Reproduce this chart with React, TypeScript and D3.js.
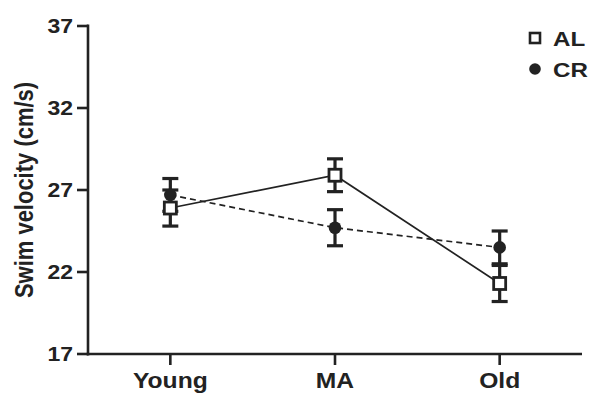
import React from "react";
import * as d3 from "d3";

const categories = ["Young", "MA", "Old"];
const alMean = [25.9, 27.9, 21.3];
const alErr = [1.1, 1.0, 1.1];
const crMean = [26.7, 24.7, 23.5];
const crErr = [1.0, 1.1, 1.0];
const yTicks = [17, 22, 27, 32, 37];

const W = 601, H = 405;
const left = 88, right = 582, top = 26, bottom = 354;
const ink = "#222";
const font = "'Liberation Sans', Arial, Helvetica, sans-serif";
const sx = 1.15;

export default function App() {
  const x = d3.scalePoint<string>().domain(categories).range([left, right]).padding(0.5);
  const y = d3.scaleLinear().domain([17, 37]).range([bottom, top]);
  const line = d3.line<number>().x((_, i) => x(categories[i])!).y((d) => y(d));
  const cap = 8;

  const errBars = (means: number[], errs: number[], key: string) =>
    means.map((m, i) => {
      const cx = x(categories[i])!;
      return (
        <g key={key + i} stroke={ink} strokeWidth={3.2}>
          <line x1={cx} x2={cx} y1={y(m - errs[i])} y2={y(m + errs[i])} />
          <line x1={cx - cap} x2={cx + cap} y1={y(m - errs[i])} y2={y(m - errs[i])} />
          <line x1={cx - cap} x2={cx + cap} y1={y(m + errs[i])} y2={y(m + errs[i])} />
        </g>
      );
    });

  return (
    <svg width={W} height={H} style={{ position: "absolute", left: 0, top: 0, background: "#fff" }} fontFamily={font}>
      {/* axes */}
      <line x1={left} x2={left} y1={top - 1.5} y2={bottom + 1.5} stroke={ink} strokeWidth={2.6} />
      <line x1={left - 1.3} x2={right} y1={bottom} y2={bottom} stroke={ink} strokeWidth={2.6} />
      {yTicks.map((t) => (
        <g key={t}>
          <line x1={left - 11} x2={left} y1={y(t)} y2={y(t)} stroke={ink} strokeWidth={2.6} />
          <text
            transform={`translate(${left - 15},${y(t)}) scale(${sx},1)`}
            dy="0.35em"
            textAnchor="end"
            fontSize={20}
            fontWeight="bold"
            fill={ink}
          >
            {t}
          </text>
        </g>
      ))}
      {categories.map((c) => (
        <g key={c}>
          <line x1={x(c)!} x2={x(c)!} y1={bottom} y2={bottom + 11} stroke={ink} strokeWidth={2.6} />
          <text
            transform={`translate(${x(c)!},${bottom + 34}) scale(1.12,1)`}
            textAnchor="middle"
            fontSize={22}
            fontWeight="bold"
            fill={ink}
          >
            {c}
          </text>
        </g>
      ))}
      <text
        transform={`translate(33,${(top + bottom) / 2}) scale(1.2,1) rotate(-90)`}
        textAnchor="middle"
        fontSize={22}
        fontWeight="bold"
        fill={ink}
      >
        Swim velocity (cm/s)
      </text>

      {/* lines */}
      <path d={line(crMean)!} fill="none" stroke={ink} strokeWidth={1.7} strokeDasharray="6,4" />
      <path d={line(alMean)!} fill="none" stroke={ink} strokeWidth={1.7} />

      {errBars(crMean, crErr, "cr")}
      {errBars(alMean, alErr, "al")}

      {crMean.map((m, i) => (
        <circle key={"c" + i} cx={x(categories[i])!} cy={y(m)} r={6.3} fill={ink} />
      ))}
      {alMean.map((m, i) => (
        <rect
          key={"s" + i}
          x={x(categories[i])! - 6}
          y={y(m) - 6}
          width={12}
          height={12}
          fill="#fff"
          stroke={ink}
          strokeWidth={2.8}
        />
      ))}

      {/* legend */}
      <rect x={530} y={33} width={10} height={10} fill="#fff" stroke={ink} strokeWidth={2.6} />
      <text transform={`translate(553,38) scale(1.15,1)`} dy="0.36em" fontSize={21} fontWeight="bold" fill={ink}>AL</text>
      <circle cx={535} cy={69} r={5.8} fill={ink} />
      <text transform={`translate(553,69) scale(1.15,1)`} dy="0.36em" fontSize={21} fontWeight="bold" fill={ink}>CR</text>
    </svg>
  );
}
